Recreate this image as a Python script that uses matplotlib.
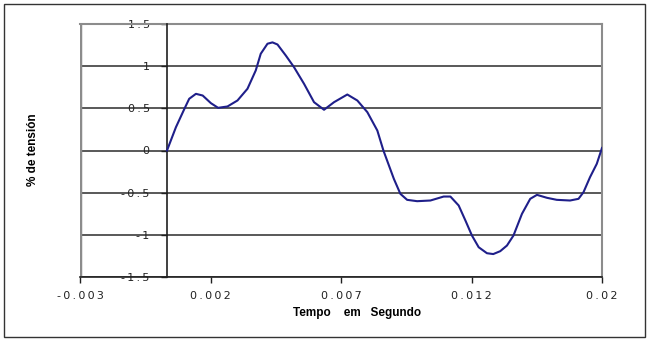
import matplotlib
matplotlib.use("Agg")
import matplotlib.pyplot as plt
from matplotlib.patches import Rectangle

# waveform (time in s, % de tensión)
tempo = [0, 0.00041, 0.00080, 0.00102, 0.00133, 0.00164, 0.00202, 0.00235, 0.00278, 0.00324,
         0.00370, 0.00408, 0.00431, 0.00462, 0.00485, 0.00508, 0.00546, 0.00584, 0.00630, 0.00676,
         0.00722, 0.00768, 0.00829, 0.00875, 0.00921, 0.00967, 0.00995, 0.01012, 0.01043, 0.01073,
         0.01104, 0.01150, 0.01211, 0.01272, 0.01303, 0.01341, 0.01372, 0.01402, 0.01433, 0.01471,
         0.01500, 0.01532, 0.01563, 0.01593, 0.01632, 0.01670, 0.01701, 0.01747, 0.01792, 0.01853,
         0.01892, 0.01915, 0.01945, 0.01976, 0.02000]
tensao = [0, 0.276, 0.494, 0.613, 0.672, 0.652, 0.561, 0.506, 0.522, 0.593,
          0.732, 0.949, 1.147, 1.266, 1.282, 1.257, 1.127, 0.988, 0.791, 0.573,
          0.483, 0.573, 0.664, 0.593, 0.455, 0.237, 0.0, -0.119, -0.336, -0.514,
          -0.585, -0.601, -0.593, -0.546, -0.546, -0.652, -0.830, -1.008, -1.147, -1.218,
          -1.228, -1.194, -1.127, -1.008, -0.751, -0.573, -0.526, -0.561, -0.585, -0.593,
          -0.573, -0.494, -0.316, -0.158, 0.03]

# x tick labels as printed in the original (they don't match the data spacing)
x_ticks = [-0.004, 0.002, 0.008, 0.014, 0.02]
x_tick_labels = ["-0.003", "0.002", "0.007", "0.012", "0.02"]
y_ticks = [-1.5, -1, -0.5, 0, 0.5, 1, 1.5]
y_tick_labels = ["-1.5", "-1", "-0.5", "0", "0.5", "1", "1.5"]

FRAME_GRAY = "#8c8c8c"
GRID = "#3c3c3c"
LINE = "#1f1f8a"
LABEL_FONT = ["Liberation Sans Narrow", "Liberation Sans", "DejaVu Sans"]


def _spaced(s):
    # excel-ish wide letter spacing
    return "\u2009".join(s)


fig = plt.figure(figsize=(6.5, 3.41), dpi=100)
ax = fig.add_axes([80 / 650, 1 - 277 / 341, 522 / 650, 253 / 341])

ax.plot(tempo, tensao, color=LINE, lw=1.5, zorder=4)

ax.set_xlim(-0.004, 0.02)
ax.set_ylim(-1.5, 1.5)
ax.set_xticks(x_ticks)
ax.set_xticklabels([_spaced(s) for s in x_tick_labels])
ax.set_yticks(y_ticks)
ax.set_yticklabels([_spaced(s) for s in y_tick_labels])

ax.yaxis.grid(True, color=GRID, lw=1.2, zorder=1)
gridlines = ax.get_ygridlines()
gridlines[0].set_visible(False)
gridlines[-1].set_visible(False)

ax.spines["left"].set_position(("data", 0))
ax.spines["left"].set_color("#202020")
ax.spines["left"].set_linewidth(1.2)
ax.spines["left"].set_zorder(3)
ax.spines["bottom"].set_color("#202020")
ax.spines["bottom"].set_linewidth(1.2)
for side in ["top", "right"]:
    ax.spines[side].set_color(FRAME_GRAY)
    ax.spines[side].set_linewidth(1.5)
ax.axvline(-0.004, color=FRAME_GRAY, lw=2.5, zorder=2)

ax.tick_params(axis="y", direction="out", length=4, width=1, pad=8.5,
               labelsize=8, labelcolor="#222222", color="#202020")
ax.tick_params(axis="x", direction="out", length=4, width=1, pad=6,
               labelsize=8, labelcolor="#222222", color="#202020")

fig.text(357 / 650, 1 - 313 / 341, "Tempo    em   Segundo", ha="center", va="center",
         fontsize=8.5, fontweight="bold", family=LABEL_FONT)
fig.text(33 / 650, 1 - 150 / 341, "% de tensión", ha="center", va="center", rotation=90,
         fontsize=8.5, fontweight="bold", family=LABEL_FONT)

# outer chart border
fig.patches.append(Rectangle((4 / 650, 4 / 341), 641 / 650, 333 / 341, transform=fig.transFigure,
                             fill=False, edgecolor="#333333", lw=1))

fig.savefig("out.png", dpi=100)
